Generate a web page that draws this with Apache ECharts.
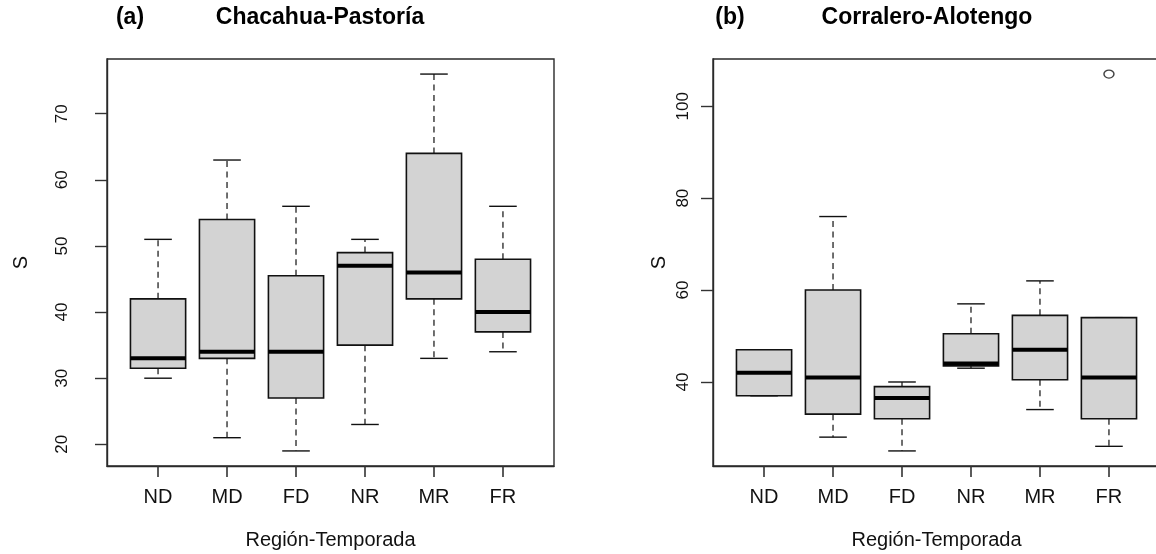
<!DOCTYPE html>
<html>
<head>
<meta charset="utf-8">
<script src="https://cdn.jsdelivr.net/npm/echarts@6/dist/echarts.min.js"></script>
<style>
  html, body { margin: 0; background: #fff; }
  #chart { width: 1156px; height: 554px; }
</style>
</head>
<body>
<div id="chart"></div>
<script>
// Boxplots of S by region-season, two sites, R base-graphics look.
const categories = ['ND', 'MD', 'FD', 'NR', 'MR', 'FR']

// (a) Chacahua-Pastoría: whisker low, Q1, median, Q3, whisker high
const lowA  = [30, 21, 19, 23, 33, 34]
const q1A   = [31.5, 33, 27, 35, 42, 37]
const medA  = [33, 34, 34, 47, 46, 40]
const q3A   = [42, 54, 45.5, 49, 64, 48]
const highA = [51, 63, 56, 51, 76, 56]
const outliersA = []

// (b) Corralero-Alotengo
const lowB  = [37, 28, 25, 43, 34, 26]
const q1B   = [37, 33, 32, 43.5, 40.5, 32]
const medB  = [42, 41, 36.5, 44, 47, 41]
const q3B   = [47, 60, 39, 50.5, 54.5, 54]
const highB = [47, 76, 40, 57, 62, 54]
const outliersB = [[6, 107]]

const yTicksA = [20, 30, 40, 50, 60, 70]
const yTicksB = [40, 60, 80, 100]
const xTicks = [1, 2, 3, 4, 5, 6]

const FONT = '"Liberation Sans", Arial, sans-serif'
const INK = '#111'
const FRAME = '#2a2a2a'

function rows(lo, q1, md, q3, hi) {
  return lo.map((v, i) => [i + 1, v, q1[i], md[i], q3[i], hi[i]])
}

// R-style range: data range padded by 4% on each side
function rRange(lo, hi, outl) {
  const all = lo.concat(hi, outl.map(o => o[1]))
  const a = Math.min(...all), b = Math.max(...all)
  const pad = (b - a) * 0.04
  return [a - pad, b + pad]
}

function renderBox(params, api) {
  const x = api.value(0)
  const lo = api.value(1), q1 = api.value(2), md = api.value(3)
  const q3 = api.value(4), hi = api.value(5)
  const cx = api.coord([x, md])[0]
  const bl = api.coord([x - 0.4, q3]), br = api.coord([x + 0.4, q1])
  const sl = api.coord([x - 0.2, lo])[0], sr = api.coord([x + 0.2, lo])[0]
  const yLo = api.coord([x, lo])[1], yHi = api.coord([x, hi])[1]
  const yQ1 = br[1], yQ3 = bl[1], yMd = api.coord([x, md])[1]
  const dash = { stroke: '#222', lineWidth: 1.3, lineDash: [6, 4.5] }
  const solid = { stroke: '#111', lineWidth: 1.4 }
  return {
    type: 'group',
    children: [
      { type: 'line', shape: { x1: cx, y1: yQ3, x2: cx, y2: yHi }, style: dash },
      { type: 'line', shape: { x1: cx, y1: yQ1, x2: cx, y2: yLo }, style: dash },
      { type: 'line', shape: { x1: sl, y1: yHi, x2: sr, y2: yHi }, style: solid },
      { type: 'line', shape: { x1: sl, y1: yLo, x2: sr, y2: yLo }, style: solid },
      { type: 'rect', shape: { x: bl[0], y: yQ3, width: br[0] - bl[0], height: yQ1 - yQ3 },
        style: { fill: '#d3d3d3', stroke: '#111', lineWidth: 1.6 } },
      { type: 'line', shape: { x1: bl[0], y1: yMd, x2: br[0], y2: yMd },
        style: { stroke: '#000', lineWidth: 4 } },
    ],
  }
}

function xAxis(gridIndex) {
  return {
    gridIndex, type: 'value', min: 0.26, max: 6.74,
    axisLine: { show: true, lineStyle: { color: FRAME, width: 1.4 } },
    axisTick: { show: true, customValues: xTicks, length: 11, lineStyle: { color: '#333', width: 1.6 } },
    axisLabel: { customValues: xTicks, formatter: v => categories[Math.round(v) - 1],
      fontSize: 20, color: INK, fontFamily: FONT, margin: 21 },
    splitLine: { show: false },
    name: 'Región-Temporada', nameLocation: 'middle', nameGap: 64,
    nameTextStyle: { fontSize: 20, color: INK, fontFamily: FONT },
  }
}

function yAxis(gridIndex, range, ticks, labelMargin, nameGap) {
  return {
    gridIndex, type: 'value', min: range[0], max: range[1],
    axisLine: { show: true, lineStyle: { color: FRAME, width: 1.4 } },
    axisTick: { show: true, customValues: ticks, length: 12, lineStyle: { color: '#333', width: 1.4 } },
    axisLabel: { customValues: ticks, rotate: 90, fontSize: 17, color: INK, fontFamily: FONT, margin: labelMargin },
    splitLine: { show: false },
    name: 'S', nameLocation: 'middle', nameRotate: 90, nameGap,
    nameTextStyle: { fontSize: 20, color: INK, fontFamily: FONT },
  }
}

const grid = (left) => ({
  left, top: 59, width: 447, height: 407, show: true,
  borderColor: FRAME, borderWidth: 1.4, backgroundColor: 'transparent',
  containLabel: false, outerBoundsMode: 'none',
})

const titleStyle = { fontSize: 23, fontWeight: 'bold', color: '#000', fontFamily: FONT }

const option = {
  animation: false,
  textStyle: { fontFamily: FONT },
  title: [
    { text: '(a)', left: 130, top: 6, textAlign: 'center', padding: 0, textStyle: titleStyle },
    { text: 'Chacahua-Pastoría', left: 320, top: 6, textAlign: 'center', padding: 0, textStyle: titleStyle },
    { text: '(b)', left: 730, top: 6, textAlign: 'center', padding: 0, textStyle: titleStyle },
    { text: 'Corralero-Alotengo', left: 927, top: 6, textAlign: 'center', padding: 0, textStyle: titleStyle },
  ],
  grid: [grid(107), grid(713)],
  xAxis: [xAxis(0), xAxis(1)],
  yAxis: [
    yAxis(0, rRange(lowA, highA, outliersA), yTicksA, 36, 76),
    yAxis(1, rRange(lowB, highB, outliersB), yTicksB, 21, 44),
  ],
  series: [
    { type: 'custom', xAxisIndex: 0, yAxisIndex: 0, renderItem: renderBox,
      encode: { x: 0, y: [1, 2, 3, 4, 5] }, data: rows(lowA, q1A, medA, q3A, highA) },
    { type: 'custom', xAxisIndex: 1, yAxisIndex: 1, renderItem: renderBox,
      encode: { x: 0, y: [1, 2, 3, 4, 5] }, data: rows(lowB, q1B, medB, q3B, highB) },
    { type: 'scatter', xAxisIndex: 1, yAxisIndex: 1, data: outliersB,
      symbol: 'circle', symbolSize: [10, 8],
      itemStyle: { color: 'rgba(0,0,0,0)', borderColor: '#111', borderWidth: 1.3 } },
  ],
}

const chart = echarts.init(document.getElementById('chart'), null, { renderer: 'canvas' })
chart.setOption(option)
</script>
</body>
</html>
